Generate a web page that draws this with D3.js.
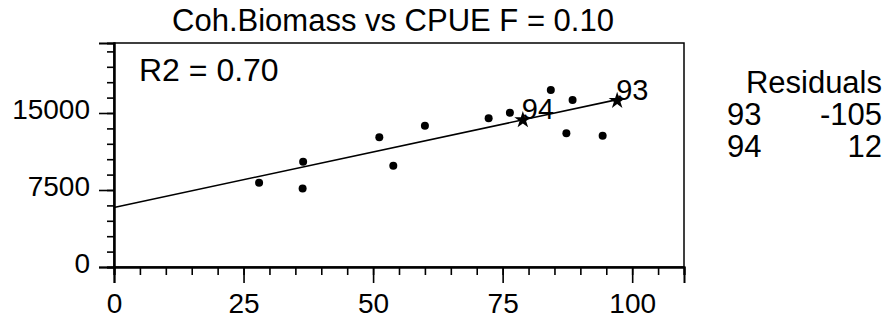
<!DOCTYPE html>
<html>
<head>
<meta charset="utf-8">
<script src="https://cdn.jsdelivr.net/npm/d3@7"></script>
<style>
  body { margin: 0; background: #fff; }
  text { font-family: "Liberation Sans", Arial, Helvetica, sans-serif; fill: #000; }
</style>
</head>
<body>
<div id="chart"></div>
<script>
// observed points (CPUE, biomass)
const cpue    = [28, 36.5, 36.4, 51.2, 53.9, 60.0, 72.3, 76.4, 84.3, 88.5, 87.3, 94.3];
const biomass = [8200, 10250, 7650, 12650, 9870, 13750, 14480, 15030, 17240, 16270, 13020, 12790];

// highlighted years (stars)
const yearLabels = ['94', '93'];
const yearCpue    = [78.9, 97.1];
const yearBiomass = [14320, 16200];

// regression line end points
const lineX = [0, 97.1];
const lineY = [5800, 16300];

const xTicks = [0, 25, 50, 75, 100];
const yTicks = [0, 7500, 15000];

const resNames  = ['93', '94'];
const resValues = ['-105', '12'];

const width = 890, height = 326;
const plotLeft = 114, plotRight = 684, plotTop = 43, plotBottom = 267;

const svg = d3.select('#chart')
    .append('svg')
    .attr('width', width)
    .attr('height', height);

let scaleX = d3.scaleLinear().domain([0, 110]).range([plotLeft, plotRight]);
let scaleY = d3.scaleLinear().domain([0, 21818]).range([plotBottom, plotTop]);

// title
svg.append('text')
    .attr('x', 393)
    .attr('y', 31)
    .style('text-anchor', 'middle')
    .style('font-size', '31px')
    .text('Coh.Biomass vs CPUE F = 0.10');

// frame
svg.append('rect')
    .attr('x', plotLeft).attr('y', plotTop)
    .attr('width', plotRight - plotLeft).attr('height', plotBottom - plotTop)
    .style('fill', 'none')
    .style('stroke', '#000')
    .style('stroke-width', 1.5);

// minor ticks
let xMinor = d3.axisBottom(scaleX).tickValues(d3.range(0, 111, 5)).tickSize(8).tickFormat('');
let yMinor = d3.axisLeft(scaleY).tickValues(d3.range(0, 21001, 1500)).tickSize(7).tickFormat('');

// major ticks with labels
let xAxis = d3.axisBottom(scaleX).tickValues(xTicks).tickSize(16).tickPadding(10);
let yAxis = d3.axisLeft(scaleY).tickValues(yTicks).tickSize(15).tickPadding(9).tickFormat(d3.format('d'));

svg.append('g').attr('transform', 'translate(0,' + plotBottom + ')').call(xMinor);
svg.append('g').attr('transform', 'translate(' + plotLeft + ',0)').call(yMinor);

var xAxisGroup = svg.append('g')
    .attr('class', 'x axis')
    .attr('transform', 'translate(0,' + plotBottom + ')')
    .call(xAxis);

var yAxisGroup = svg.append('g')
    .attr('class', 'y axis')
    .attr('transform', 'translate(' + plotLeft + ',0)')
    .call(yAxis);

svg.selectAll('.domain').style('stroke', '#000').style('stroke-width', 2);
svg.selectAll('.tick line').style('stroke', '#000').style('stroke-width', 1.6);
svg.selectAll('.tick text').style('font-size', '28px');
xAxisGroup.selectAll('.tick text').attr('dy', '0.71em');
yAxisGroup.selectAll('.tick text').attr('dy', '0.18em');

// regression line
svg.append('line')
    .attr('x1', scaleX(lineX[0])).attr('y1', scaleY(lineY[0]))
    .attr('x2', scaleX(lineX[1])).attr('y2', scaleY(lineY[1]))
    .style('stroke', '#000')
    .style('stroke-width', 1.6);

// points
svg.selectAll('circle.pt')
    .data(cpue)
    .enter()
    .append('circle')
    .attr('class', 'pt')
    .attr('cx', (d, i) => scaleX(d))
    .attr('cy', (d, i) => scaleY(biomass[i]))
    .attr('r', 4)
    .style('fill', '#000');

// stars and year labels
svg.selectAll('path.star')
    .data(yearCpue)
    .enter()
    .append('path')
    .attr('class', 'star')
    .attr('d', d3.symbol().type(d3.symbolStar).size(90))
    .attr('transform', (d, i) => 'translate(' + scaleX(d) + ',' + scaleY(yearBiomass[i]) + ')')
    .style('fill', '#000');

svg.selectAll('text.yr')
    .data(yearLabels)
    .enter()
    .append('text')
    .attr('class', 'yr')
    .attr('x', (d, i) => scaleX(yearCpue[i]) - 1)
    .attr('y', (d, i) => scaleY(yearBiomass[i]) - 1)
    .style('font-size', '29px')
    .text(d => d);

// R2 label
svg.append('text')
    .attr('x', 139)
    .attr('y', 81)
    .style('font-size', '32px')
    .text('R2 = 0.70');

// residuals table
svg.append('text')
    .attr('x', 882).attr('y', 93)
    .style('text-anchor', 'end')
    .style('font-size', '31px')
    .text('Residuals');

resNames.forEach((n, i) => {
    svg.append('text')
        .attr('x', 727).attr('y', 125 + i * 32)
        .style('font-size', '31px')
        .text(n);
    svg.append('text')
        .attr('x', 882).attr('y', 125 + i * 32)
        .style('text-anchor', 'end')
        .style('font-size', '31px')
        .text(resValues[i]);
});
</script>
</body>
</html>
